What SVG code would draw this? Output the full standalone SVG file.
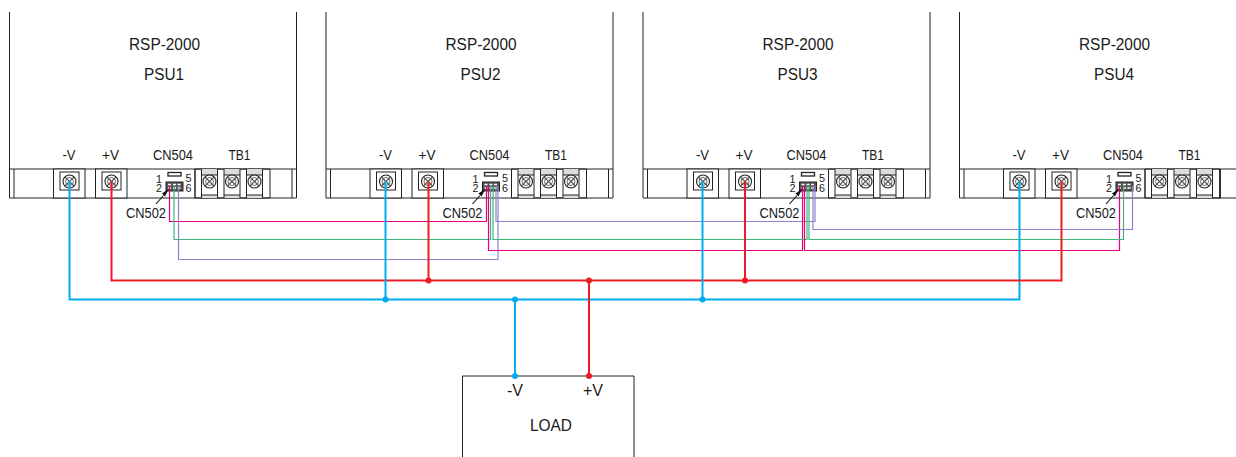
<svg xmlns="http://www.w3.org/2000/svg" width="1236" height="457" viewBox="0 0 1236 457">
<style>
text{font-family:"Liberation Sans",Arial,sans-serif;fill:#1a1a1a;text-anchor:middle}
.t{font-size:16px}.s{font-size:14px}.n{font-size:11px}
.l{fill:none;stroke:#222;stroke-width:1}
.g{fill:#ddd;stroke:none}
.w{fill:none;stroke-width:1.200}
.m{fill:none;stroke-width:2}
.pk{stroke:#e6007e}.gr{stroke:#3cb878}.pu{stroke:#8f82cc}
.bl{stroke:#00aeef}.rd{stroke:#ed1c24}
</style>
<defs>
<g id="screw"><circle r="6.500" fill="#fff" stroke="#222" stroke-width="1.100"/><circle r="4" fill="none" stroke="#666" stroke-width="1"/><path d="M-4.400-4.400L4.400 4.400M-4.400 4.400L4.400-4.400" stroke="#444" stroke-width="1.100"/></g>
<g id="term"><rect class="g" x="-8" y="0" width="16" height="29"/><rect x="-8" y="6" width="16" height="20" fill="#fff"/><path class="l" d="M-8 0V29M8 0V29M-8 6H8M-8 26H8"/><use href="#screw" y="12.500"/></g>
<g id="post"><rect x="-16" y="0" width="31.500" height="29" fill="#fff" stroke="#222"/><rect x="-9.500" y="3" width="19" height="18" fill="#fff" stroke="#222"/><use href="#screw" y="12.500"/></g>
<g id="band">
<path class="l" d="M0 12V169M287 12V169M0 169H287V198H0ZM4.500 169V198M282.500 169V198"/>
<use href="#post" x="60" y="169"/><use href="#post" x="102" y="169"/>
<text class="s" x="59.500" y="160" textLength="13" lengthAdjust="spacingAndGlyphs">-V</text><text class="s" x="101" y="160" textLength="17" lengthAdjust="spacingAndGlyphs">+V</text>
<text class="s" x="163.500" y="160" textLength="40" lengthAdjust="spacingAndGlyphs">CN504</text><text class="s" x="230" y="160" textLength="22" lengthAdjust="spacingAndGlyphs">TB1</text>
<rect x="158.500" y="172.500" width="13" height="3.500" fill="#fff" stroke="#222" stroke-width="1.300"/>
<rect x="156.500" y="182" width="17" height="9" fill="#555" stroke="#222"/>
<path stroke="#fff" stroke-width="1.500" d="M158.500 184.500h3M163.500 184.500h3M168 184.500h3M158.500 188h3M163.500 188h3M168 188h3"/>
<text class="n" x="149.500" y="183" textLength="6" lengthAdjust="spacingAndGlyphs">1</text><text class="n" x="149.500" y="192" textLength="6" lengthAdjust="spacingAndGlyphs">2</text><text class="n" x="179" y="182" textLength="6" lengthAdjust="spacingAndGlyphs">5</text><text class="n" x="179" y="192" textLength="6" lengthAdjust="spacingAndGlyphs">6</text>
<text class="s" x="136.500" y="218" textLength="40" lengthAdjust="spacingAndGlyphs">CN502</text>
<path d="M146.500 204L154 195.500" stroke="#111" stroke-width="1.100"/><path d="M159.500 188.500l-7 5 3 3Z" fill="#111"/>
<path class="l" d="M185.500 169V198H260.500V169Z"/><path class="l" stroke-width="1.500" d="M185.500 169V198"/>
<use href="#term" x="200" y="169"/><use href="#term" x="222.500" y="169"/><use href="#term" x="245" y="169"/>
</g>
</defs>
<g id="psu1" transform="translate(9.500 0)"><use href="#band"/><text class="t" x="155" y="49.500" textLength="71" lengthAdjust="spacingAndGlyphs">RSP-2000</text><text class="t" x="154.500" y="79.500" textLength="40" lengthAdjust="spacingAndGlyphs">PSU1</text></g>
<g id="psu2" transform="translate(326 0)"><use href="#band"/><text class="t" x="155" y="49.500" textLength="71" lengthAdjust="spacingAndGlyphs">RSP-2000</text><text class="t" x="154.500" y="79.500" textLength="40" lengthAdjust="spacingAndGlyphs">PSU2</text></g>
<g id="psu3" transform="translate(643 0)"><use href="#band"/><text class="t" x="155" y="49.500" textLength="71" lengthAdjust="spacingAndGlyphs">RSP-2000</text><text class="t" x="154.500" y="79.500" textLength="40" lengthAdjust="spacingAndGlyphs">PSU3</text></g>
<g id="psu4" transform="translate(959.500 0)"><use href="#band"/><text class="t" x="155" y="49.500" textLength="71" lengthAdjust="spacingAndGlyphs">RSP-2000</text><text class="t" x="154.500" y="79.500" textLength="40" lengthAdjust="spacingAndGlyphs">PSU4</text><path stroke="#111" stroke-width="1.500" d="M260.500 169V198"/></g>
<g id="load"><path class="l" d="M462.500 457V376H634V457" stroke="#444"/><text class="t" x="515" y="396">-V</text><text class="t" x="593" y="396">+V</text><text class="t" x="551" y="431" textLength="42" lengthAdjust="spacingAndGlyphs">LOAD</text></g>
<g id="connectors">
<path class="w pk" d="M169.500 186V221.500H486.500V186"/>
<path class="w gr" d="M174 186V239.500H490.500V186"/>
<path class="w pu" d="M178.500 186V259.500H498V186"/>
<path class="w pu" d="M496 186V221.500H815V186"/>
<path class="w pk" d="M488.500 186V250.500H802.500V186"/>
<path class="w gr" d="M493 186V239.500H807V186"/>
<path class="w pk" d="M804.500 186V250.500H1119.500V186"/>
<path class="w gr" d="M809 186V239.500H1123.500V186"/>
<path class="w pu" d="M813 186V229.500H1132.500V186"/>
<path class="m bl" d="M69.500 181V299.500H1019.500V181"/>
<path class="m rd" d="M111.500 181V280.500H1061.500V181"/>
<path class="m bl" d="M385.500 181V299.500M702.500 181V299.500M515 299.500V376"/>
<path class="m rd" d="M428.500 181V280.500M745 181V280.500M589 280.500V376"/>
<g fill="#00aeef"><circle cx="385.500" cy="299.500" r="3"/><circle cx="515" cy="299.500" r="3"/><circle cx="702.500" cy="299.500" r="3"/><circle cx="515" cy="376" r="3"/></g>
<g fill="#ed1c24"><circle cx="428.500" cy="280.500" r="3"/><circle cx="589" cy="280.500" r="3"/><circle cx="745" cy="280.500" r="3"/><circle cx="589" cy="376" r="3"/></g>
</g>
</svg>
